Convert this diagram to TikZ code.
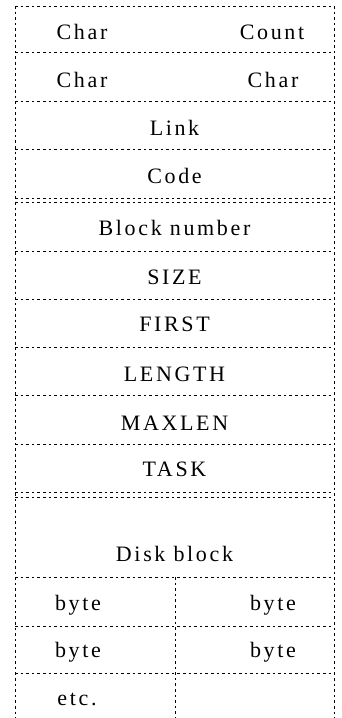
\documentclass[tikz,border=0pt]{standalone}
\usepackage{fontspec}
\setmainfont{Liberation Serif}[LetterSpace=12]
\begin{document}
\begin{tikzpicture}[x=1pt,y=-1pt,
  rule/.style={line width=1pt,dash pattern=on 2.6pt off 3pt},
  lbl/.style={font=\fontsize{22}{26}\selectfont,inner sep=0pt,anchor=base}]
\useasboundingbox (0,0) rectangle (341,718);
% outer verticals
\draw[rule] (15,6) -- (15,718);
\draw[rule] (334,6) -- (334,718);
% horizontal rules
\foreach \y in {6,52,101,149,198,202,251,299,347,395,444,492,497,577,626,673}
  \draw[rule] (15,\y) -- (334,\y);
% inner vertical
\draw[rule] (175,577) -- (175,718);
% labels
\node[lbl] (c1) at (82,39) {Char};
\node[lbl] (cnt) at (272,39) {Count};
\node[lbl] (c2) at (82,87) {Char};
\node[lbl] (c3) at (273,87) {Char};
\node[lbl] (link) at (174.5,135) {Link};
\node[lbl] (code) at (174.5,183) {Code};
\node[lbl] (blk) at (174.5,235) {Block number};
\node[lbl] (size) at (174.5,284) {SIZE};
\node[lbl] (first) at (174.5,331) {FIRST};
\node[lbl] (len) at (174.5,381) {LENGTH};
\node[lbl] (max) at (174.5,430) {MAXLEN};
\node[lbl] (task) at (174.5,476) {TASK};
\node[lbl] (disk) at (174.5,561) {Disk block};
\node[lbl] (b1) at (78,610) {byte};
\node[lbl] (b2) at (273,610) {byte};
\node[lbl] (b3) at (78,657) {byte};
\node[lbl] (b4) at (273,657) {byte};
\node[lbl] (etc) at (77,705) {etc.};
\end{tikzpicture}
\end{document}
